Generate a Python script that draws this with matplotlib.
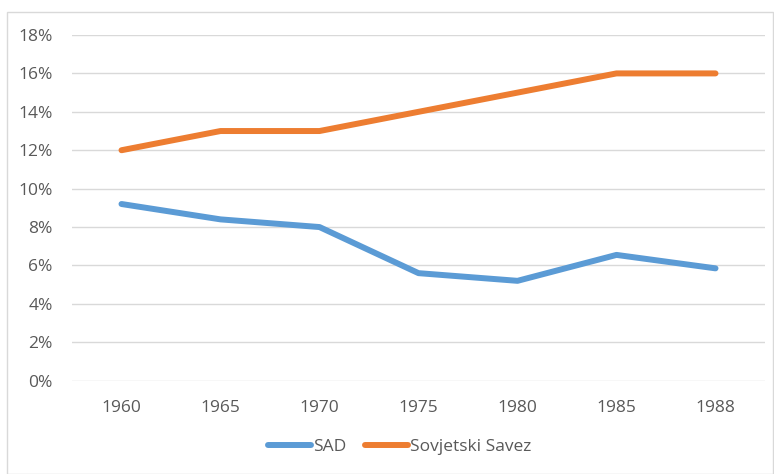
import matplotlib
matplotlib.use("Agg")
import matplotlib.pyplot as plt
from matplotlib.patches import Rectangle
from matplotlib.ticker import FuncFormatter

years = ["1960", "1965", "1970", "1975", "1980", "1985", "1988"]
sad = [9.2, 8.4, 8.0, 5.6, 5.2, 6.55, 5.85]
sssr = [12, 13, 13, 14, 15, 16, 16]
series_names = ["SAD", "Sovjetski Savez"]
yticks = [0, 2, 4, 6, 8, 10, 12, 14, 16, 18]

plt.rcParams['font.family'] = ['Open Sans', 'DejaVu Sans']
W, H = 774, 474
fig = plt.figure(figsize=(W / 100, H / 100), dpi=100)
fig.patch.set_facecolor("white")

# chart frame
fig.patches.append(Rectangle((7 / W, 0), (773 - 7) / W, 1 - 12 / H, transform=fig.transFigure,
                             fill=False, edgecolor="#d9d9d9", linewidth=1.0))

left, right = 72 / W, 765 / W
bottom, top = 1 - 380.7 / H, 1 - 35 / H
ax = fig.add_axes([left, bottom, right - left, top - bottom])

x = list(range(len(years)))
ax.plot(x, sad, color="#5B9BD5", linewidth=4.3, solid_capstyle="round", solid_joinstyle="round",
        label=series_names[0], zorder=3)
ax.plot(x, sssr, color="#ED7D31", linewidth=4.3, solid_capstyle="round", solid_joinstyle="round",
        label=series_names[1], zorder=3)

ax.set_xlim(-0.5, len(years) - 0.5)
ax.set_ylim(0, 18)
ax.set_yticks(yticks)
ax.yaxis.set_major_formatter(FuncFormatter(lambda v, p: f"{int(v)}%"))
ax.set_xticks(x)
ax.set_xticklabels(years)
ax.grid(axis="y", color="#d9d9d9", linewidth=1.0)
ax.set_axisbelow(True)
for s in ax.spines.values():
    s.set_visible(False)
ax.tick_params(axis="both", length=0, labelsize=12.5, colors="#595959")
ax.tick_params(axis="y", pad=14)
ax.tick_params(axis="x", pad=14)

leg = fig.legend(loc="center", bbox_to_anchor=(399.5 / W, 1 - 447 / H), ncol=2, frameon=False,
                 fontsize=12.5, handlelength=2.5, handletextpad=0.1, columnspacing=1.1,
                 labelcolor="#595959")

fig.savefig("out.png", dpi=100, facecolor="white")
